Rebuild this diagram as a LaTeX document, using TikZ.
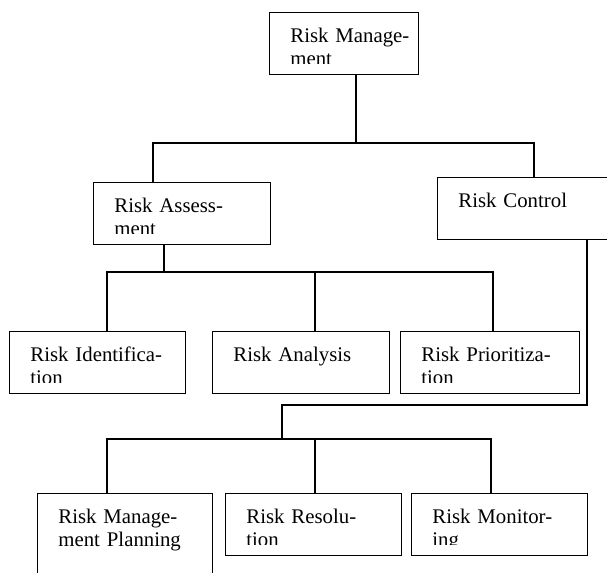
\documentclass[tikz,border=0pt]{standalone}
\usepackage{fontspec}
\setmainfont{Liberation Serif}[Ligatures=NoCommon]
% caja con texto recortado por dentro
\newcommand{\riesgo}[5]{%
  \node[caja, minimum width=#3, minimum height=#4, anchor=north west,
    path picture={
      \clip (path picture bounding box.north west) rectangle ([yshift=5.5pt]path picture bounding box.south east);
      \node[texto] at ([xshift=10pt, yshift=-15pt]path picture bounding box.north west) {#5};
    }] (#1) at (#2) {};}
\begin{document}
\begin{tikzpicture}[x=0.5pt, y=-0.5pt,
  caja/.style={draw, line width=0.7pt, inner sep=0pt},
  texto/.style={inner sep=0pt, anchor=base west, align=left, text width=100pt,
    font=\fontsize{10.4pt}{11.5pt}\selectfont},
  enlace/.style={line width=1pt}]
\clip (0,0) rectangle (607,573);
% Nivel superior
\riesgo{rm}{269,12}{74.5pt}{31pt}{Risk Manage-\\ment}
% Segundo nivel
\riesgo{ra}{93,182}{88.5pt}{31pt}{Risk Assess-\\ment}
\riesgo{rc}{437,177}{90pt}{31pt}{Risk Control}
% Actividades de evaluacion
\riesgo{ri}{9,331}{88pt}{31pt}{Risk Identifica-\\tion}
\riesgo{ran}{212,331}{88.5pt}{31pt}{Risk Analysis}
\riesgo{rp}{400,331}{89.5pt}{31pt}{Risk Prioritiza-\\tion}
% Actividades de control
\riesgo{rmp}{37,493}{87.5pt}{50pt}{Risk Manage-\\ment Planning}
\riesgo{rr}{225,493}{88pt}{31pt}{Risk Resolu-\\tion}
\riesgo{rmo}{411,493}{88pt}{31pt}{Risk Monitor-\\ing}
% Enlaces del primer nivel
\coordinate (b1) at (356,143);
\coordinate (b1l) at (153,143);
\coordinate (b1r) at (534,143);
\draw[enlace] (rm.south -| b1) -- (b1);
\draw[enlace] (ra.north -| b1l) -- (b1l) -- (b1r) -- (rc.north -| b1r);
% Enlaces de la evaluacion
\coordinate (b2) at (164,272);
\coordinate (b2l) at (107,272);
\coordinate (b2m) at (315,272);
\coordinate (b2r) at (493,272);
\draw[enlace] (ra.south -| b2) -- (b2);
\draw[enlace] (ri.north -| b2l) -- (b2l) -- (b2r) -- (rp.north -| b2r);
\draw[enlace] (b2m) -- (ran.north -| b2m);
% Enlaces del control
\coordinate (codo) at (587,405);
\coordinate (b3) at (282,439);
\coordinate (b3l) at (107,439);
\coordinate (b3m) at (315,439);
\coordinate (b3r) at (491,439);
\draw[enlace] (rc.south -| codo) -- (codo) -| (b3);
\draw[enlace] (rmp.north -| b3l) -- (b3l) -- (b3r) -- (rmo.north -| b3r);
\draw[enlace] (b3m) -- (rr.north -| b3m);
\end{tikzpicture}
\end{document}
